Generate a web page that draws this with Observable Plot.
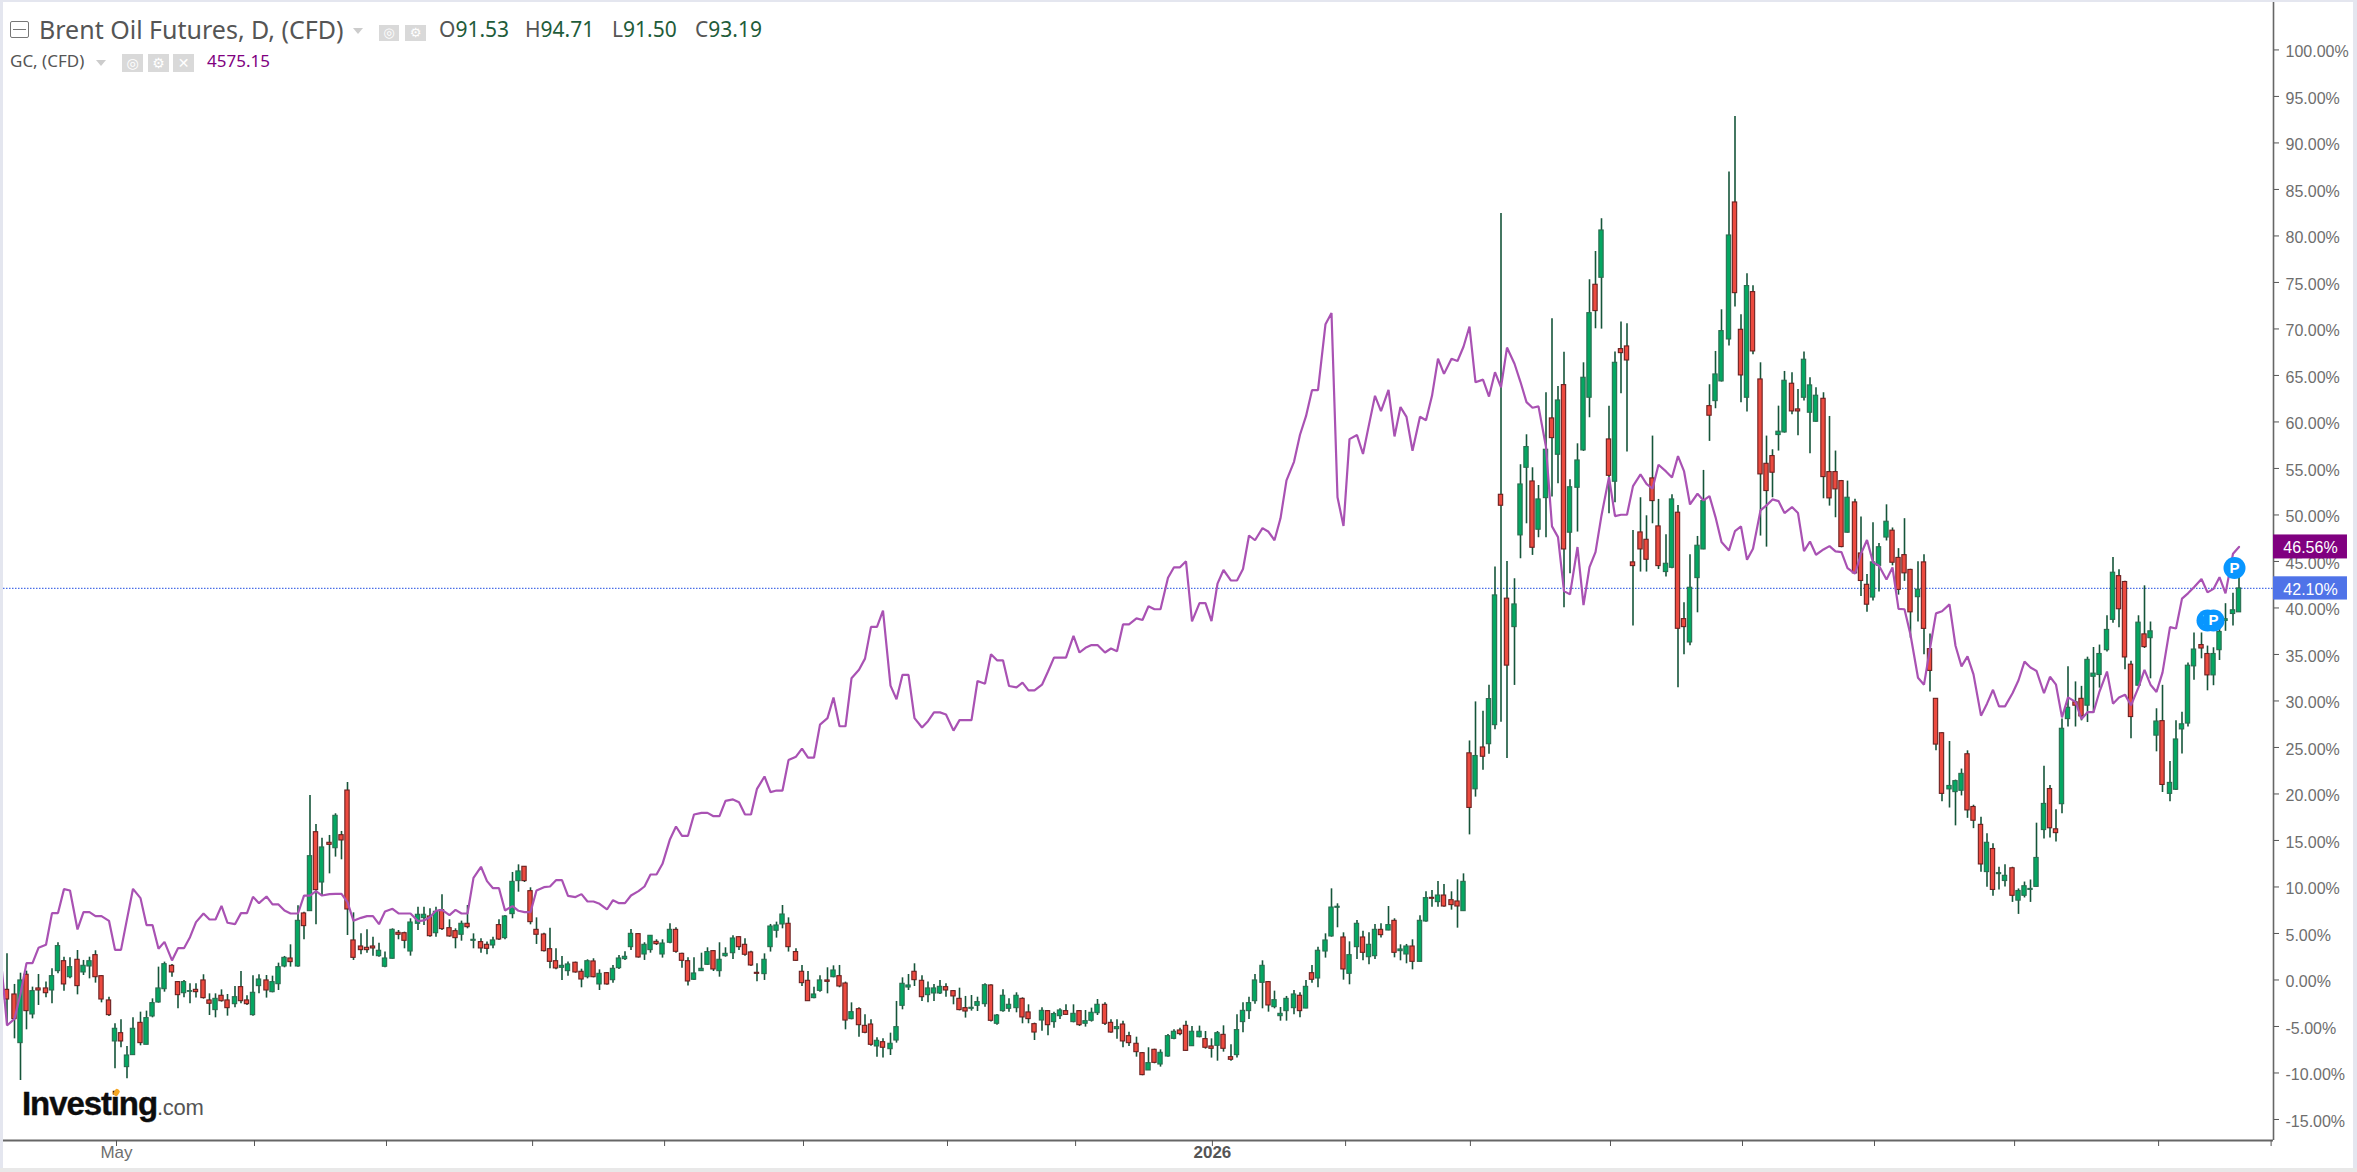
<!DOCTYPE html>
<html><head><meta charset="utf-8">
<script src="https://cdn.jsdelivr.net/npm/d3@7"></script>
<script src="https://cdn.jsdelivr.net/npm/@observablehq/plot@0.6"></script>
<style>
html,body{margin:0;padding:0;background:#fff;overflow:hidden}
#wrap{position:relative;width:2357px;height:1172px;overflow:hidden}
#wrap svg{display:block;position:absolute;left:0;top:0}
.h{position:absolute;white-space:nowrap;font-family:"Noto Sans",sans-serif;line-height:1}
.ic{position:absolute;background:#d9d9d9;color:#fff;text-align:center;font-family:"DejaVu Sans";font-weight:bold;white-space:nowrap}
.bar{position:absolute;background:#e4e6ef}
</style></head><body><div id="wrap"></div>
<script>
// ---- Brent daily candles, in % change from the start of the window (body edges, wicks)
const upDays = "RRGRGRRGGR"+"GRGGRRRGRG"+"GRGGGGRRGG"+"RRRGRRGRRG"+"GRGGGRGRGR"+"GRGRRRRRRG"+"GGRRGGGRGR"+"RRGRGRRGRG"+"GGRRRRRRGG"+"RRGRGRGGGG"+
"RGGRGGRRRG"+"GGRGGGRRRR"+"GGGGRRRRGG"+"RGRRGRRRGR"+"GGGGRRGGGR"+"RRRGGGRGGG"+"GRRRGRGGRG"+"RGGGRRGRRR"+"RGRGGGRRGG"+"RRGRRGGGGG"+
"RGGGGRGRGG"+"GGRGGRGGRG"+"RGGRGGRGRR"+"RGRGRGGRRG"+"GGRGGRGRGG"+"GGRGRGRRRR"+"RRRGGRRGGG"+"RGGGRRGRRR"+"RGGRRGGGRR"+"RRGRRRGGGR"+
"RRRGRRRRGG"+"GRRRGRGGRG"+"GGGGRRGGRR"+"GGGGGRRRGR"+"GGRGGGGGRR"+"GGGGG";
const highs = [
2.81,-0.48,0.73,0.95,-0.77,0.59,-0.23,1.2,4.0,2.45,
2.38,3.17,2.1,2.45,3.14,0.48,-1.85,-4.71,-4.28,-7.15,
-4.07,-3.46,-3.35,-2.03,1.38,1.92,1.67,-0.16,-0.05,-0.41,
-0.41,0.56,-1.49,-1.49,-1.06,-1.56,-0.7,0.91,-1.7,0.45,
0.56,0.48,0.41,1.81,2.53,3.78,7.97,7.29,19.84,16.72,
15.25,15.54,17.87,15.97,21.23,7.22,4.96,5.39,4.6,3.96,
3.0,5.5,5.32,5.14,6.58,7.83,7.83,7.65,7.83,9.16,
6.47,5.5,6.33,8.01,4.96,4.43,4.07,4.6,6.47,6.93,
11.56,12.38,12.2,9.91,6.68,5.03,5.57,3.35,2.53,1.92,
1.92,1.16,2.17,2.28,1.09,0.81,1.56,2.63,3.03,5.43,
4.96,4.0,4.78,4.32,4.32,6.04,5.61,2.88,2.38,2.38,
2.88,3.46,3.17,4.0,3.46,4.75,4.68,4.43,3.1,1.74,
2.81,5.97,6.22,8.01,6.68,3.35,1.56,0.91,-0.77,0.45,
1.31,1.52,1.56,-0.23,-2.46,-2.99,-3.75,-4.28,-6.22,-6.33,
-5.72,-2.31,0.23,0.59,1.74,0.45,-0.23,-0.48,-0.05,-0.41,
-1.13,-0.88,-1.77,-1.67,-1.85,-0.41,-0.52,-3.71,-1.06,-2.03,
-1.38,-1.92,-2.67,-4.64,-2.99,-3.28,-3.46,-3.1,-2.67,-2.67,
-3.28,-3.28,-3.03,-2.1,-2.46,-4.28,-4.28,-4.43,-5.61,-6.15,
-7.8,-7.29,-7.44,-7.51,-5.86,-5.36,-5.18,-4.43,-5.0,-4.96,
-5.54,-6.33,-5.54,-4.93,-6.97,-3.75,-2.46,-1.85,0.59,2.06,
-0.16,-1.2,-2.96,-1.77,-1.13,-1.38,-0.05,1.56,3.53,4.96,
9.8,8.19,5.07,4.1,6.4,5.25,5.07,5.97,6.04,7.9,
6.58,3.78,3.82,4.32,6.9,9.48,9.62,10.59,10.27,9.48,
10.77,11.41,25.7,29.9,28.9,31.7,44.4,82.4,45,43.14,
55.4,58.62,55.07,53.17,63.14,71.09,63.8,67.5,53.78,57.65,
66.36,75.29,78.33,81.85,61.7,67.51,70.74,70.56,48.34,51.85,
49.91,58.48,51.67,47.87,52.17,51.02,40.56,45.72,47.69,54.79,
64.0,67.58,72.06,86.87,92.85,71.53,75.93,74.64,66.36,58.48,
57.01,61.7,65.43,65.29,63.5,67.51,64.75,63.68,63.14,60.59,
56.87,53.71,53.64,51.68,49.77,43.6,49.16,46.94,51.09,48.6,
46.38,49.6,44.16,44.97,45.72,37.2,30.23,26.57,25.64,21.49,
22.68,24.64,18.79,17.49,15.71,14.64,12.12,12.38,12.12,9.79,
10.53,10.75,16.86,22.97,20.9,18.31,28.05,33.68,32.05,31.57,
34.71,35.75,36.01,39.16,45.42,44.12,42.86,34.27,39.16,42.38,
38.49,29.16,31.68,23.49,27.86,28.79,34.09,37.31,37.31,35.9,
35.72,38.23,40.46,41.57,44.16];
const bodyTops = [
-1.06,-1.56,-0.05,0.56,-1.2,-0.91,-0.91,0.41,3.64,2.02,
1.38,2.17,1.52,2.02,2.67,0.41,-2.2,-5.25,-5.72,-8.12,
-5.25,-4.61,-4.1,-2.49,-0.91,1.7,1.52,-0.23,-0.23,-1.2,
-1.06,-0.05,-2.2,-2.03,-1.7,-2.2,-1.85,-0.77,-2.2,-1.38,
0.05,-0.05,-0.23,1.38,2.38,2.31,6.36,7.15,13.31,15.89,
14.25,14.75,17.65,15.57,20.37,4.25,3.6,3.46,3.6,3.14,
2.31,5.39,5.07,5.03,6.18,7.01,7.01,6.83,7.33,7.51,
5.57,5.25,6.04,6.04,4.32,4.07,3.78,4.25,5.9,6.83,
10.55,11.67,12.17,9.55,5.39,4.89,3.31,2.02,1.52,1.67,
1.85,0.88,2.02,1.99,0.66,0.73,1.2,2.31,2.49,4.96,
4.93,3.78,4.75,4.1,3.92,5.39,5.39,2.81,2.02,0.7,
1.2,3.0,3.1,2.17,2.81,4.46,4.6,3.78,2.96,0.77,
2.17,5.75,5.86,7.04,6.04,3.0,0.88,-0.09,-1.56,-0.05,
-0.05,1.02,0.41,-0.38,-3.46,-3.14,-4.93,-4.79,-6.54,-6.69,
-6.86,-5.07,-0.41,-0.59,0.88,-0.09,-0.91,-0.91,-0.74,-0.77,
-1.2,-2.03,-3.03,-2.99,-2.38,-0.56,-0.59,-3.82,-1.7,-2.67,
-1.7,-2.03,-3.49,-4.75,-3.32,-3.35,-3.67,-3.28,-3.35,-3.64,
-3.35,-4.43,-3.53,-2.67,-2.67,-4.61,-5.07,-4.79,-6.04,-6.86,
-7.87,-8.94,-7.51,-7.83,-6.04,-5.57,-5.43,-4.93,-5.57,-5.57,
-6.36,-7.15,-5.72,-5.9,-8.3,-5.39,-3.32,-2.49,-0.05,1.52,
-0.23,-2.17,-3.64,-2.03,-1.56,-1.7,-0.74,0.73,3.14,4.25,
7.79,7.87,4.57,2.67,6.04,4.57,3.78,5.39,5.39,5.9,
6.36,3.28,3.6,3.6,6.36,8.8,8.83,9.08,9.08,8.58,
8.44,10.55,24.37,24.08,25.0,30.2,41.35,52.17,41.0,40.38,
53.28,57.3,53.6,51.67,57.01,60.38,62.31,63.96,52.98,55.86,
64.75,71.7,74.75,80.59,58.12,66.36,67.83,68.12,44.9,48.12,
47.33,53.93,48.77,44.75,51.67,50.24,38.8,42.17,46.69,51.49,
61.7,65.11,69.77,80.05,83.6,69.91,74.61,73.96,64.57,55.5,
56.33,58.95,64.43,64.11,61.35,66.69,63.93,62.82,62.49,54.61,
54.61,53.64,51.85,51.35,45.86,42.49,44.9,46.53,49.27,48.31,
45.38,45.68,44.09,41.97,44.9,35.57,30.23,26.53,20.86,21.38,
22.16,24.27,18.6,16.68,14.75,14.08,11.49,11.2,12.01,9.57,
10.08,9.79,13.12,18.93,20.53,16.2,27.01,29.27,29.86,30.23,
34.42,32.94,35.05,37.64,43.79,43.42,42.79,33.9,38.42,37.16,
37.49,27.79,27.83,21.19,25.86,27.49,33.79,35.53,36.01,35.05,
35.05,37.42,38.79,39.75,42.1];
const bodyBottoms = [
-2.1,-4.21,-6.79,-3.35,-3.71,-1.13,-1.42,-1.13,0.95,-0.48,
0.3,-0.66,0.81,1.45,0.3,-2.1,-3.78,-6.61,-6.61,-9.37,
-8.08,-6.79,-6.97,-3.92,-2.42,-0.99,0.81,-1.63,-1.42,-1.27,
-1.31,-1.95,-2.56,-3.24,-2.28,-3.03,-2.6,-2.28,-2.6,-3.78,
-0.66,-1.13,-1.31,-0.45,1.45,1.92,1.45,5.79,7.4,9.66,
10.48,14.53,14.17,15.0,7.58,2.38,3.21,3.21,3.39,2.56,
1.42,2.28,4.86,4.21,3.06,6.04,6.65,4.71,5.03,5.47,
4.68,4.5,4.86,5.68,4.21,3.39,3.35,3.71,4.35,4.5,
7.08,10.63,10.63,6.22,4.86,3.1,1.95,1.24,1.31,0.95,
0.81,0.05,0.3,0.3,-0.48,-0.48,-0.02,1.27,2.24,3.53,
2.42,2.74,3.21,3.85,2.74,4.0,3.03,2.06,-0.16,0.02,
0.95,1.63,1.13,0.95,2.56,2.88,3.53,2.71,1.56,0.66,
0.63,3.53,5.29,5.97,3.53,2.06,-0.34,-2.28,-1.95,-1.17,
-0.2,0.3,-0.7,-4.36,-4.21,-4.86,-5.68,-6.97,-7.15,-7.29,
-7.44,-6.51,-2.78,-0.81,-0.02,-1.85,-1.63,-1.45,-1.45,-1.13,
-1.77,-3.24,-3.39,-3.1,-2.78,-2.6,-4.39,-4.71,-3.35,-3.1,
-3.03,-4.03,-4.21,-5.65,-4.36,-4.86,-4.53,-3.89,-3.75,-4.53,
-4.86,-4.71,-4.39,-3.57,-4.71,-5.65,-5.29,-6.61,-6.79,-7.76,
-10.23,-9.73,-8.91,-9.09,-8.23,-6.33,-5.82,-7.62,-7.12,-6.15,
-7.29,-7.4,-7.08,-7.4,-8.58,-8.08,-4.53,-3.35,-2.28,-0.31,
-2.74,-2.92,-3.89,-3.35,-3.03,-3.35,-3.07,0.02,0.16,3.06,
4.68,7.76,1.13,0.66,3.53,2.92,2.45,2.56,4.82,5.32,
2.92,3.1,2.74,1.95,1.95,6.29,8.73,8.37,7.9,8.05,
7.9,7.4,18.5,20.5,24.0,25.35,27.4,50.99,33.8,37.94,
47.8,55.07,46.47,48.41,51.81,58.26,56.47,46.29,48.09,52.92,
56.94,62.6,71.92,75.5,54.21,53.57,67.4,66.61,44.5,46.29,
45.18,51.49,44.5,43.86,44.32,37.76,37.94,36.29,43.21,46.29,
60.67,62.24,64.36,68.87,73.85,65.0,62.6,67.58,54.36,52.57,
54.54,58.59,58.87,61.13,61.13,62.6,60.99,60.02,54.07,51.78,
52.75,46.55,48.09,43.72,42.9,40.35,41.12,44.53,47.57,44.86,
41.94,43.72,39.53,41.16,37.75,33.23,25.31,20.01,20.49,20.2,
20.34,18.23,17.12,12.42,11.6,9.68,11.38,10.64,9.05,8.53,
9.05,9.68,10.01,16.12,16.31,15.79,18.9,28.05,29.49,28.34,
29.49,32.6,32.79,35.46,38.72,39.86,34.68,28.27,31.64,35.79,
36.75,26.27,20.97,20.01,20.45,26.94,27.57,33.72,35.64,32.75,
32.75,35.46,38.6,39.35,39.53];
const lows = [
-4.89,-6.33,-10.81,-5.36,-4.18,-2.74,-1.92,-2.56,0.66,-1.2,
0.12,-1.6,0.48,0.12,-0.34,-2.46,-3.92,-9.55,-7.29,-10.63,
-8.12,-7.08,-6.97,-4.07,-2.49,-1.31,0.3,-3.1,-1.92,-2.56,
-1.95,-2.06,-3.82,-4.07,-2.38,-3.89,-2.99,-2.56,-2.74,-3.89,
-1.49,-1.95,-1.38,-1.13,1.31,1.38,1.38,4.32,7.4,5.93,
9.08,11.41,13.21,12.92,4.78,2.1,2.71,2.88,2.56,2.45,
1.31,2.24,4.32,3.35,2.56,5.32,5.86,4.6,4.6,5.32,
4.6,3.35,4.17,5.5,3.35,2.88,2.71,3.35,4.25,4.32,
6.58,9.44,10.48,5.93,3.82,3.0,1.2,1.09,-0.05,0.41,
0.73,-0.84,0.12,0.23,-1.13,-0.56,-0.34,1.13,2.1,3.17,
2.35,2.1,2.88,3.71,2.35,3.89,2.88,1.27,-0.66,-0.05,
0.95,1.56,0.91,0.3,2.45,2.2,3.17,2.56,1.45,-0.2,
-0.05,3.0,4.5,5.5,3.0,1.99,-0.7,-2.28,-2.03,-1.31,
-1.49,0.23,-0.84,-5.36,-4.28,-6.15,-5.79,-7.12,-8.3,-8.4,
-8.12,-6.79,-3.21,-1.13,-0.7,-2.31,-2.46,-2.31,-1.56,-1.85,
-2.67,-3.32,-4.1,-3.35,-3.39,-2.92,-4.53,-4.86,-3.46,-3.46,
-3.53,-4.71,-4.71,-6.51,-5.5,-6.0,-5.18,-4.25,-3.82,-4.61,
-5.0,-5.07,-4.53,-3.82,-4.89,-5.72,-6.36,-7.29,-7.15,-8.3,
-10.3,-9.73,-9.01,-9.37,-8.3,-6.43,-6.0,-7.69,-7.15,-6.22,
-7.44,-8.4,-8.73,-7.76,-8.73,-8.4,-5.68,-4.25,-2.6,-3.1,
-3.46,-3.1,-4.43,-4.43,-3.75,-4.07,-3.1,-0.34,-0.84,2.35,
4.6,5.61,-0.02,-0.52,2.2,2.06,1.63,2.2,4.5,5.29,
2.38,2.06,1.74,1.09,1.92,6.22,7.83,7.83,7.83,7.51,
5.57,7.37,15.6,19.66,22.55,24.26,26.9,27.7,23.8,31.67,
45.29,49.05,45.65,47.55,47.55,51.92,53.35,40.02,43.68,48.16,
56.83,60.45,70.02,69.98,50.13,51.31,63.03,56.76,38.05,43.86,
43.86,49.05,44.14,43.32,44.21,31.42,34.97,35.94,39.48,46.26,
57.91,61.42,64.29,68.16,72.35,62.06,61.06,67.22,47.73,46.54,
51.85,56.87,58.8,60.77,58.52,62.24,56.58,59.98,51.74,50.95,
49.7,46.47,48.05,43.6,41.24,39.53,40.75,41.72,47.2,44.53,
41.38,42.86,36.75,38.49,34.97,30.97,24.64,19.16,18.49,16.57,
19.79,17.38,16.27,11.57,9.97,9.01,9.68,10.01,8.34,7.05,
8.82,8.34,9.97,15.16,15.27,14.83,17.86,27.2,27.2,27.86,
27.68,28.68,31.38,35.27,38.35,37.86,33.35,25.94,31.57,35.64,
32.38,24.53,20.16,19.16,20.38,24.31,27.2,32.23,34.53,31.09,
31.64,34.35,37.49,38.05,39.53];
// ---- Gold (GC) line, % change; the first value is one session before the first candle
const goldLine = [2.1,
-4.89,-4.18,-1.49,1.81,1.81,3.46,3.78,7.19,7.19,9.77,
9.62,5.43,7.29,7.29,6.86,6.86,6.36,3.24,3.24,6.54,
9.8,8.8,5.9,5.9,3.35,4.1,2.1,3.42,3.42,4.6,
6.22,7.15,6.5,6.5,7.97,6.15,6.0,7.19,7.19,8.94,
8.26,8.98,8.12,8.12,7.47,7.15,7.15,9.08,9.08,9.55,
9.08,9.23,9.26,9.26,8.37,6.36,6.68,6.86,6.86,6.0,
7.36,7.65,7.15,7.15,7.15,6.33,6.4,6.76,7.44,7.54,
6.97,7.54,7.15,7.15,10.98,12.17,10.63,9.87,9.87,7.47,
7.94,7.44,7.29,7.29,9.62,9.98,10.05,10.73,10.73,9.05,
8.91,9.23,8.44,8.44,8.19,7.58,8.58,8.26,8.26,9.08,
9.55,10.05,11.34,11.34,12.49,15.14,16.5,15.5,15.5,17.79,
17.97,17.97,17.61,17.61,19.26,19.41,19.12,17.79,17.79,20.55,
21.88,20.2,20.37,20.37,23.64,24.01,24.88,23.9,23.9,27.46,
28.15,30.37,27.28,27.28,32.44,33.35,34.55,37.97,37.97,39.72,
31.65,30.19,32.81,32.81,28.15,27.14,27.83,28.77,28.77,28.55,
26.81,27.94,27.94,27.94,32.15,31.86,35.03,34.37,34.37,31.61,
31.46,31.97,31.13,31.13,31.75,33.17,34.66,34.66,34.66,36.99,
35.21,35.72,36.01,36.01,35.21,35.64,35.35,38.23,38.23,38.88,
38.7,40.19,39.86,39.86,43.24,44.37,44.37,45.02,38.55,40.52,
40.52,38.59,42.62,44.08,42.95,42.95,44.19,47.79,47.28,48.59,
48.19,47.28,49.64,53.72,55.71,58.62,60.62,63.42,63.42,70.51,
71.71,51.9,48.81,58.15,58.59,56.55,59.71,62.81,61.17,63.46,
58.44,61.6,60.55,56.91,60.55,60.19,62.81,66.8,65.17,66.8,
66.55,68.08,70.26,64.26,64.55,62.73,65.35,63.71,68.0,66.26,
64.29,62.13,61.53,61.67,57.3,48.77,47.62,41.81,41.46,46.55,
40.3,44.39,46.01,49.95,54.07,49.88,50.02,50.02,53.1,54.36,
53.35,52.82,55.4,54.68,54.03,56.33,54.72,51.13,52.28,51.56,
52.03,49.77,47.08,46.19,48.27,48.77,45.18,46.36,50.49,51.03,
51.67,51.49,50.2,50.85,50.2,46.11,47.15,45.72,46.29,46.65,
46.08,46.01,44.29,43.68,45.83,47.31,44.9,44.53,43.05,44.35,
39.9,39.86,37.12,32.49,31.75,35.64,39.42,39.64,40.38,35.94,
33.72,34.79,32.86,28.42,29.71,31.2,29.42,29.42,30.83,32.23,
34.23,33.6,33.23,30.83,32.6,31.75,28.23,30.38,29.9,28.05,
28.79,28.79,31.01,33.16,29.71,30.38,30.68,29.53,31.46,33.34,
31.75,30.97,33.05,37.94,37.79,41.0,41.57,42.23,43.12,41.68,
42.05,43.31,41.57,45.83,46.56];
const yTicks = d3.range(-15,101,5);
const monthTicks = [17.25,39.25,60.25,83.35,104.35,126.25,149.25,169.35,191.15,212.35,232.15,254.25,275.25,296.25,318.35,341.35,359.35];
const lastBrent = 42.10, lastGold = 46.56;
const positionBadges = [{day:349,pct:38.65},{day:350,pct:38.65},{day:353.25,pct:44.3}];
// sessions that open a new trading week (the chart leaves a slightly wider gap there)
const weekBreaks = [...d3.range(1,62,5),...d3.range(65,161,5),...d3.range(164,260,5),...d3.range(263,354,5)];
const pos = i => i + 0.25*d3.bisectRight(weekBreaks,i);

const candles = highs.map((h,i)=>({x:pos(i),high:h,low:lows[i],top:bodyTops[i],bottom:bodyBottoms[i],up:upDays[i]==="G"}));
const gold = goldLine.map((v,i)=>({x:i===0?-1:pos(i-1),v}));
const xMin=-0.583, xMax=377.75, tagW=12.33;
const font='"Liberation Sans",Arial,sans-serif';
const tickGrey="#6e6e6e", wick="#16553a";
const badgeX = d=>pos(Math.floor(d.day))+(d.day%1);

const chart = Plot.plot({
  width:2357,height:1172,marginLeft:3,marginRight:84,marginTop:2,marginBottom:32,
  style:{fontFamily:font,background:"#fff",overflow:"visible"},
  x:{type:"linear",domain:[xMin,xMax],axis:null},
  y:{domain:[-17.26,105.1],axis:null},
  marks:[
    Plot.ruleY([lastBrent],{stroke:"#4a6fe8",strokeDasharray:"1.5,1.5",strokeWidth:1.2}),
    Plot.ruleX(candles,{x:"x",y1:"low",y2:"high",stroke:wick,strokeWidth:1.6,clip:true}),
    Plot.rect(candles.filter(d=>d.up),{x1:d=>d.x-.36,x2:d=>d.x+.36,y1:"bottom",y2:"top",fill:"#04a762",stroke:"#2a6d50",strokeWidth:1.1}),
    Plot.rect(candles.filter(d=>!d.up),{x1:d=>d.x-.36,x2:d=>d.x+.36,y1:"bottom",y2:"top",fill:"#ec4a3f",stroke:"#6b2020",strokeWidth:1.1}),
    Plot.line(gold,{x:"x",y:"v",stroke:"#a952b3",strokeWidth:2.2,clip:true,strokeLinejoin:"miter"}),
    ...positionBadges.flatMap(b=>[
      Plot.dot([b],{x:badgeX,y:"pct",r:11,fill:"#0896ff"}),
      Plot.text([b],{x:badgeX,y:"pct",text:()=>"P",fill:"#fff",fontWeight:"bold",fontSize:15})
    ]),
    Plot.ruleX([xMax],{stroke:"#666",strokeWidth:1.6}),
    Plot.ruleY([-17.26],{stroke:"#666",strokeWidth:1.8}),
    Plot.axisY({anchor:"right",ticks:yTicks,tickFormat:()=>"",tickSize:5,label:null,stroke:"#555"}),
    Plot.text(yTicks,{x:xMax,y:d=>d,text:d=>d.toFixed(2)+"%",dx:12,dy:2,textAnchor:"start",fontSize:16,fill:tickGrey}),
    Plot.axisX({anchor:"bottom",ticks:monthTicks.map(pos),tickFormat:()=>"",tickSize:6,label:null,stroke:"#555"}),
    Plot.text([{x:pos(monthTicks[0]),t:"May"}],{x:"x",text:"t",frameAnchor:"bottom",dy:17,fontSize:17,fill:tickGrey}),
    Plot.text([{x:pos(monthTicks[8]),t:"2026"}],{x:"x",text:"t",frameAnchor:"bottom",dy:17,fontSize:17,fontWeight:"bold",fill:"#555"}),
    Plot.rect([lastGold],{x1:xMax,x2:xMax+tagW,y1:d=>d-1.29,y2:d=>d+1.29,fill:"#800080"}),
    Plot.text([lastGold],{x:xMax+tagW/2,y:d=>d,dy:1,text:d=>d.toFixed(2)+"%",fill:"#fff",fontSize:16}),
    Plot.rect([lastBrent],{x1:xMax,x2:xMax+tagW,y1:d=>d-1.25,y2:d=>d+1.25,fill:"#4f73e8"}),
    Plot.text([lastBrent],{x:xMax+tagW/2,y:d=>d,dy:1,text:d=>d.toFixed(2)+"%",fill:"#fff",fontSize:16})
  ]
});
const wrap=document.getElementById("wrap");
wrap.appendChild(chart);
function add(cls,css,html){const e=document.createElement("div");e.className=cls;e.style.cssText=css;e.innerHTML=html||"";wrap.appendChild(e);return e}
// frame
add("bar","left:0;top:0;width:2357px;height:2px");
add("bar","left:0;top:0;width:3px;height:1172px");
add("bar","left:2353px;top:0;width:4px;height:1172px");
add("bar","left:0;top:1168px;width:2357px;height:4px;background:#e8e8e8");
// header row 1
add("h","left:10px;top:21px;width:19px;height:17px;border:1.5px solid #777;border-radius:2px;box-sizing:border-box","");
add("h","left:13px;top:28.5px;width:13px;height:1.5px;background:#777");
add("h","left:39px;top:17px;font-size:25px;color:#555","Brent Oil Futures, D, (CFD)");
add("h","left:353px;top:28px;width:0;height:0;border-left:5.5px solid transparent;border-right:5.5px solid transparent;border-top:6px solid #ccc");
add("ic","left:379px;top:25px;width:20px;height:16px;font-size:13px;line-height:16px","◎");
add("ic","left:405px;top:25px;width:21px;height:16px;font-size:13px;line-height:16px","⚙");
const val=(x,l,v)=>add("h",`left:${x}px;top:19px;font-size:21px;color:#1f5c3a`,`<span style="color:#555">${l}</span>${v}`);
val(439,"O","91.53");val(525,"H","94.71");val(612,"L","91.50");val(695,"C","93.19");
// header row 2
add("h","left:10px;top:52px;font-size:17px;color:#555","GC, (CFD)");
add("h","left:96px;top:60px;width:0;height:0;border-left:5.5px solid transparent;border-right:5.5px solid transparent;border-top:6px solid #ccc");
add("ic","left:122px;top:54px;width:21px;height:18px;font-size:14px;line-height:18px","◎");
add("ic","left:148px;top:54px;width:21px;height:18px;font-size:14px;line-height:18px","⚙");
add("ic","left:173px;top:54px;width:21px;height:18px;font-size:14px;line-height:18px","✕");
add("h","left:207px;top:52px;font-size:17px;color:#800080","4575.15");
// logo
add("h",'left:22px;top:1087px;font-family:"Liberation Sans";font-weight:bold;font-size:33px;letter-spacing:-1.1px;color:#0d0d0d;-webkit-text-stroke:0.4px #0d0d0d',"Investing");
add("h",'left:157px;top:1097px;font-family:"Liberation Sans";font-size:22px;letter-spacing:-0.3px;color:#555',".com");
add("h","left:114px;top:1089px;width:5px;height:7px;background:#f5a623;border-radius:2px;transform:rotate(35deg)");
</script></body></html>
